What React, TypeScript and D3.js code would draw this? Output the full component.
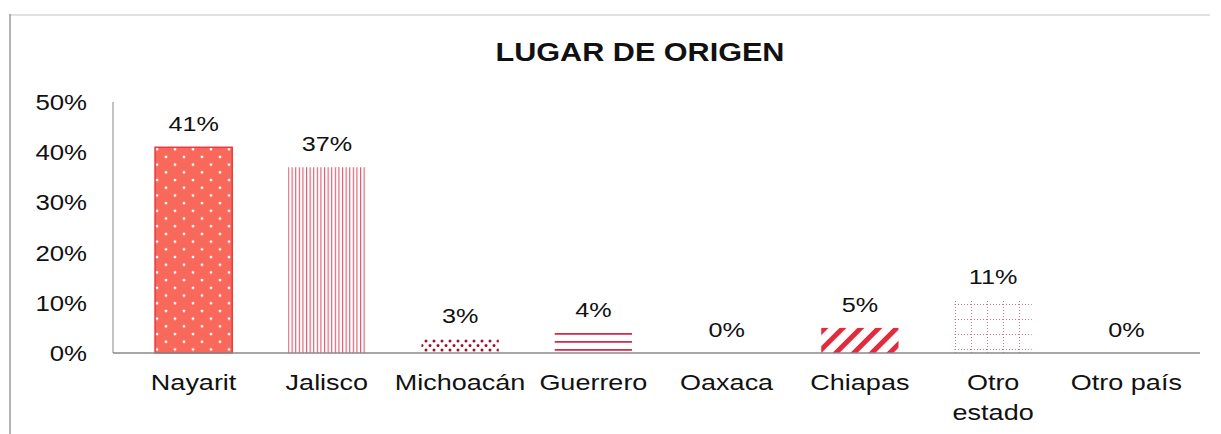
import React from 'react';
import * as d3 from 'd3';

// chart data
const categories = ['Nayarit', 'Jalisco', 'Michoacán', 'Guerrero', 'Oaxaca', 'Chiapas', 'Otro estado', 'Otro país'];
const shares = [0.41, 0.37, 0.028, 0.04, 0, 0.05, 0.105, 0];
const yTicks = [0, 0.1, 0.2, 0.3, 0.4, 0.5];
const patterns = ['pDots', 'pVert', 'pDark', 'pHoriz', 'pNone', 'pDiag', 'pGrid', 'pNone'];

const W = 1221;
const H = 434;
const FONT = '"Liberation Sans", Arial, sans-serif';
// the scan is stretched sideways, so text gets a wider x scale
const SX = 1.2;

const StretchText = ({ x, y, size, weight = 'normal', anchor = 'middle', children }) => (
  <g transform={`translate(${x},${y}) scale(${SX},1)`}>
    <text fontFamily={FONT} fontSize={size} fontWeight={weight} textAnchor={anchor} fill="#111">
      {children}
    </text>
  </g>
);

export default function App() {
  const x = d3.scaleBand()
    .domain(categories)
    .range([115, 1205])
    .paddingInner(0.42)
    .paddingOuter(0.3);

  const y = d3.scaleLinear()
    .domain([0, 0.5])
    .range([353, 102]);

  const pct = (v) => `${Math.round(v * 100)}%`;

  return (
    <svg width={W} height={H} style={{ position: 'absolute', left: 0, top: 0, background: '#fff' }}>
      <defs>
        {/* salmon with white staggered dots */}
        <pattern id="pDots" width="18" height="15.4" patternUnits="userSpaceOnUse">
          <rect width="18" height="15.4" fill="#f8695b" />
          <circle cx="4" cy="3" r="1.4" fill="#fff" />
          <circle cx="13" cy="10.7" r="1.4" fill="#fff" />
        </pattern>
        {/* thin vertical stripes */}
        <pattern id="pVert" width="3.6" height="10" patternUnits="userSpaceOnUse">
          <rect width="3.6" height="10" fill="#fff" />
          <rect x="0" width="1.1" height="10" fill="#e2566c" />
        </pattern>
        {/* dense dark red dots */}
        <pattern id="pDark" width="8" height="9" patternUnits="userSpaceOnUse" y="339">
          <rect width="8" height="9" fill="#fff" />
          <circle cx="2" cy="2" r="1.5" fill="#a80c2a" />
          <circle cx="6" cy="6.5" r="1.5" fill="#a80c2a" />
        </pattern>
        {/* horizontal lines */}
        <pattern id="pHoriz" width="10" height="8" patternUnits="userSpaceOnUse" y="333">
          <rect width="10" height="8" fill="#fff" />
          <rect y="0" width="10" height="1.8" fill="#d2304e" />
        </pattern>
        {/* wide diagonal stripes */}
        <pattern id="pDiag" width="12.7" height="12.7" patternUnits="userSpaceOnUse" patternTransform="rotate(45)">
          <rect width="12.7" height="12.7" fill="#fff" />
          <rect width="5" height="12.7" fill="#e12a3c" />
        </pattern>
        {/* dotted grid */}
        <pattern id="pGrid" width="16" height="15" patternUnits="userSpaceOnUse" x="955" y="304">
          <rect width="16" height="15" fill="#fff" />
          <line x1="0" y1="0.5" x2="16" y2="0.5" stroke="#c77a88" strokeWidth="1" strokeDasharray="1 2" />
          <line x1="0.5" y1="0" x2="0.5" y2="15" stroke="#c77a88" strokeWidth="1" strokeDasharray="1 2" />
        </pattern>
      </defs>

      {/* frame of the chart area */}
      <line x1={10} y1={15} x2={1210} y2={15} stroke="#c4c4c4" strokeWidth={1} />
      <line x1={10} y1={14} x2={10} y2={H} stroke="#8a8a8a" strokeWidth={1.3} />

      <StretchText x={640} y={61} size={25.5} weight="bold">LUGAR DE ORIGEN</StretchText>

      {/* y axis */}
      <line x1={113} y1={y(0.5)} x2={113} y2={y(0)} stroke="#9a9a9a" strokeWidth={1.2} />
      {yTicks.map((t) => (
        <StretchText key={t} x={87} y={y(t) + 8} size={21.5} anchor="end">{pct(t)}</StretchText>
      ))}

      {/* bars */}
      {categories.map((c, i) => {
        const v = shares[i];
        if (v <= 0) return null;
        const bx = x(c);
        const top = y(v);
        const isSolid = i === 0;
        return (
          <rect
            key={c}
            x={bx}
            y={top}
            width={x.bandwidth()}
            height={y(0) - top}
            fill={`url(#${patterns[i]})`}
            stroke={isSolid ? '#e8262c' : 'none'}
            strokeWidth={isSolid ? 1.2 : 0}
          />
        );
      })}

      {/* x axis */}
      <line x1={113} y1={y(0)} x2={1200} y2={y(0)} stroke="#888" strokeWidth={1.5} />

      {/* value labels */}
      {categories.map((c, i) => (
        <StretchText key={c} x={x(c) + x.bandwidth() / 2} y={y(shares[i]) - 16} size={21}>
          {pct(shares[i])}
        </StretchText>
      ))}

      {/* category labels, wrapped on spaces only where needed */}
      {categories.map((c) => {
        const lines = c === 'Otro estado' ? ['Otro', 'estado'] : [c];
        return lines.map((ln, j) => (
          <StretchText key={c + j} x={x(c) + x.bandwidth() / 2} y={390 + j * 30} size={22.5}>
            {ln}
          </StretchText>
        ));
      })}
    </svg>
  );
}
